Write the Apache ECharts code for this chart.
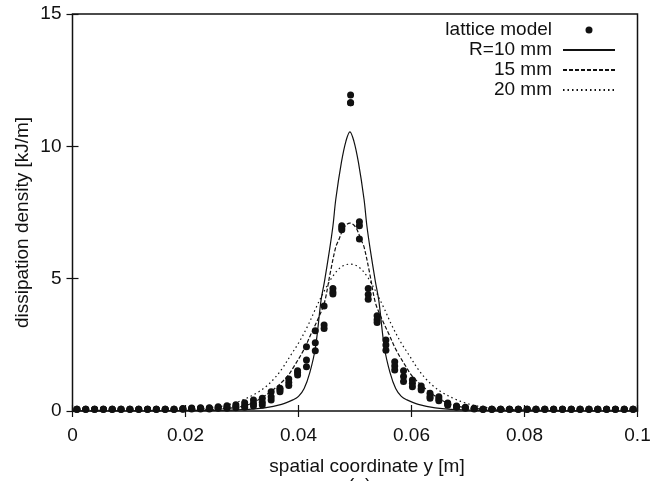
<!DOCTYPE html>
<html>
<head>
<meta charset="utf-8">
<script src="https://cdn.jsdelivr.net/npm/echarts@6/dist/echarts.min.js"></script>
<style>
html,body{margin:0;padding:0;background:#fff;}
#chart{width:665px;height:481px;}
</style>
</head>
<body>
<div id="chart"></div>
<script>
// Lattice model: element centres and three sets of read values
var latticeX = [0.00078,0.00234,0.00391,0.00547,0.00703,0.00859,0.01016,0.01172,0.01328,0.01484,0.01641,0.01797,0.01953,0.02109,0.02266,0.02422,0.02578,0.02734,0.02891,0.03047,0.03203,0.03359,0.03516,0.03672,0.03828,0.03984,0.04141,0.04297,0.04453,0.04609,0.04766,0.04922,0.05078,0.05234,0.05391,0.05547,0.05703,0.05859,0.06016,0.06172,0.06328,0.06484,0.06641,0.06797,0.06953,0.07109,0.07266,0.07422,0.07578,0.07734,0.07891,0.08047,0.08203,0.08359,0.08516,0.08672,0.08828,0.08984,0.09141,0.09297,0.09453,0.09609,0.09766,0.09922];
var latticeA = [0.07,0.07,0.07,0.07,0.07,0.07,0.07,0.07,0.07,0.07,0.07,0.07,0.09,0.11,0.12,0.12,0.16,0.2,0.24,0.31,0.42,0.48,0.73,0.86,1.21,1.52,2.43,3.03,3.97,4.63,7.0,11.94,7.15,4.63,3.6,2.68,1.86,1.52,1.17,0.94,0.67,0.54,0.3,0.19,0.14,0.1,0.07,0.07,0.07,0.07,0.07,0.07,0.07,0.07,0.07,0.07,0.07,0.07,0.07,0.07,0.07,0.07,0.07,0.07];
var latticeB = [0.07,0.07,0.07,0.07,0.07,0.07,0.07,0.07,0.07,0.07,0.07,0.07,0.08,0.09,0.1,0.1,0.12,0.14,0.16,0.2,0.28,0.33,0.54,0.8,1.08,1.45,1.93,2.58,3.25,4.5,6.92,11.65,7.0,4.4,3.45,2.49,1.7,1.3,1.05,0.85,0.55,0.45,0.26,0.16,0.12,0.09,0.07,0.07,0.07,0.07,0.07,0.07,0.07,0.07,0.07,0.07,0.07,0.07,0.07,0.07,0.07,0.07,0.07,0.07];
var latticeC = [0.07,0.07,0.07,0.07,0.07,0.07,0.07,0.07,0.07,0.07,0.07,0.07,0.07,0.08,0.08,0.08,0.1,0.1,0.12,0.14,0.19,0.23,0.42,0.73,0.96,1.36,1.67,2.28,3.12,4.42,6.85,11.65,6.5,4.22,3.34,2.3,1.55,1.11,0.92,0.79,0.48,0.39,0.22,0.14,0.1,0.08,0.07,0.07,0.07,0.07,0.07,0.07,0.07,0.07,0.07,0.07,0.07,0.07,0.07,0.07,0.07,0.07,0.07,0.07];

// Analytical curves
var r10X = [0,0.01,0.02,0.025,0.03,0.034,0.037,0.039,0.040,0.041,0.042,0.043,0.044,0.0446,0.0455,0.0461,0.0466,0.0476,0.0484,0.0491,0.0498,0.0506,0.0516,0.0521,0.0527,0.0536,0.0542,0.0552,0.0562,0.0572,0.0582,0.0592,0.0612,0.0642,0.0682,0.0732,0.0782,0.09,0.1];
var r10Y = [0,0,0.01,0.02,0.05,0.12,0.25,0.42,0.55,0.85,1.45,2.4,4.2,4.9,6.1,7.0,8.0,9.4,10.2,10.55,10.2,9.4,8.0,7.0,6.1,4.9,4.2,2.4,1.45,0.85,0.55,0.42,0.25,0.12,0.05,0.02,0.01,0,0];

var r15X = [0,0.0191,0.0261,0.0301,0.0325,0.0355,0.0380,0.0391,0.0409,0.0423,0.0436,0.0446,0.0456,0.0466,0.0471,0.0481,0.0491,0.0501,0.0511,0.0516,0.0526,0.0536,0.0546,0.0559,0.0573,0.0591,0.0602,0.0627,0.0657,0.0681,0.0721,0.0791,0.1];
var r15Y = [0,0.02,0.08,0.18,0.37,0.8,1.3,1.65,2.3,2.95,3.55,4.1,5.2,6.2,6.45,6.95,7.1,6.95,6.45,6.2,5.2,4.1,3.55,2.95,2.3,1.65,1.3,0.8,0.37,0.18,0.08,0.02,0];

var r20X = [0,0.0141,0.0221,0.0261,0.0286,0.0306,0.0326,0.0341,0.0356,0.0371,0.0386,0.0401,0.0416,0.0431,0.0446,0.0461,0.0476,0.0491,0.0506,0.0521,0.0536,0.0551,0.0566,0.0581,0.0596,0.0611,0.0626,0.0641,0.0656,0.0676,0.0696,0.0721,0.0761,0.0841,0.1];
var r20Y = [0,0.02,0.08,0.17,0.3,0.46,0.68,0.9,1.2,1.6,2.1,2.6,3.2,3.9,4.55,5.1,5.45,5.55,5.45,5.1,4.55,3.9,3.2,2.6,2.1,1.6,1.2,0.9,0.68,0.46,0.3,0.17,0.08,0.02,0];

var xTicks = {min: 0, max: 0.1, interval: 0.02};
var yTicks = {min: 0, max: 15, interval: 5};

function pairs(xs, ys) { return xs.map(function (x, i) { return [x, ys[i]]; }); }
var latticeData = pairs(latticeX, latticeA).concat(pairs(latticeX, latticeB), pairs(latticeX, latticeC));

var FONT = 'Liberation Sans';
var FS = 19;
var chart = echarts.init(document.getElementById('chart'), null, {renderer: 'canvas'});
var tickCommon = {show: true, inside: true, length: 6, lineStyle: {color: '#111', width: 1.2}};
var hideSym = {opacity: 0};
chart.setOption({
  animation: false,
  backgroundColor: '#fff',
  textStyle: {fontFamily: FONT},
  grid: {left: 72.5, right: 27.5, top: 14, bottom: 70, show: true, borderColor: '#111', borderWidth: 1.5, backgroundColor: 'transparent'},
  legend: {
    orient: 'vertical', right: 44, top: 15, align: 'right',
    itemWidth: 52, itemHeight: 7, itemGap: 0,
    textStyle: {fontSize: FS, fontFamily: FONT, color: '#111', lineHeight: 20, padding: [0, 6, 0, 0]},
    data: [
      {name: 'lattice model', icon: 'circle', itemStyle: {color: '#111', opacity: 1}},
      {name: 'R=10 mm', itemStyle: hideSym},
      {name: '15 mm', itemStyle: hideSym},
      {name: '20 mm', itemStyle: hideSym}
    ]
  },
  xAxis: [{
    type: 'value', min: xTicks.min, max: xTicks.max, interval: xTicks.interval,
    name: 'spatial coordinate y [m]', nameLocation: 'middle', nameGap: 46,
    nameTextStyle: {fontSize: FS, fontFamily: FONT, color: '#111', padding: [0, 0, 0, 24]},
    axisLine: {show: false}, axisTick: tickCommon, splitLine: {show: false},
    axisLabel: {fontSize: FS, fontFamily: FONT, color: '#111', margin: 15}
  }, {
    type: 'value', position: 'top', min: xTicks.min, max: xTicks.max, interval: xTicks.interval,
    axisLine: {show: false}, axisTick: tickCommon, splitLine: {show: false}, axisLabel: {show: false}
  }],
  yAxis: [{
    type: 'value', min: yTicks.min, max: yTicks.max, interval: yTicks.interval,
    name: 'dissipation density [kJ/m]', nameLocation: 'middle', nameGap: 40, nameMoveOverlap: false,
    nameTextStyle: {fontSize: FS, fontFamily: FONT, color: '#111', padding: [0, 20, 0, 0]},
    nameRotate: 90,
    axisLine: {show: false}, axisTick: tickCommon, splitLine: {show: false},
    axisLabel: {fontSize: FS, fontFamily: FONT, color: '#111', margin: 11}
  }, {
    type: 'value', position: 'right', min: yTicks.min, max: yTicks.max, interval: yTicks.interval,
    axisLine: {show: false}, axisTick: tickCommon, splitLine: {show: false}, axisLabel: {show: false}
  }],
  graphic: [{
    type: 'text', left: 348, top: 476,
    style: {text: '(a)', font: '19px "Liberation Sans"', fill: '#111'}
  }],
  series: [{
    name: 'lattice model', type: 'scatter', data: latticeData,
    symbol: 'circle', symbolSize: 7, clip: false,
    itemStyle: {color: '#111', opacity: 1}
  }, {
    name: 'R=10 mm', type: 'line', data: pairs(r10X, r10Y), symbol: 'none', smooth: 0.35,
    lineStyle: {color: '#111', width: 1.2, type: 'solid'}, itemStyle: {color: '#111'}
  }, {
    name: '15 mm', type: 'line', data: pairs(r15X, r15Y), symbol: 'none', smooth: 0.35,
    lineStyle: {color: '#111', width: 1.2, type: [4, 2]}, itemStyle: {color: '#111'}
  }, {
    name: '20 mm', type: 'line', data: pairs(r20X, r20Y), symbol: 'none', smooth: 0.35,
    lineStyle: {color: '#111', width: 1.2, type: [1.5, 3]}, itemStyle: {color: '#111'}
  }]
});
</script>
</body>
</html>
